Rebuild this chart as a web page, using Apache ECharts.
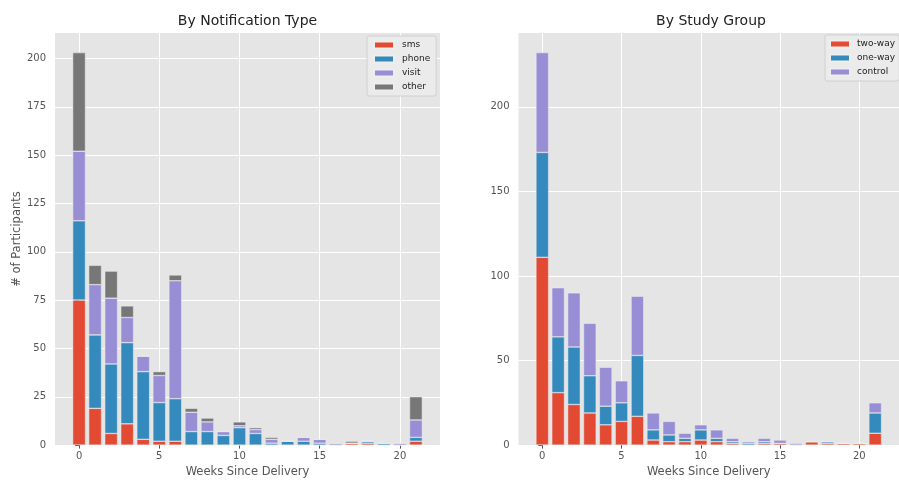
<!DOCTYPE html>
<html><head><meta charset="utf-8">
<script src="https://cdn.jsdelivr.net/npm/echarts@6/dist/echarts.min.js"></script>
<style>html,body{margin:0;padding:0;background:#fff}#c{width:899px;height:483px}</style>
</head><body><div id="c"></div>
<script>
// Weeks since delivery (x categories)
const weeks = [0,1,2,3,4,5,6,7,8,9,10,11,12,13,14,15,16,17,18,19,20,21];
// Left panel: by notification type
const sms   = [75,19,6,11,3,2,2,0,0,0,0,0,0,0,0,0,0,1,1,0,0,2];
const phone = [41,38,36,42,35,20,22,7,7,5,9,6,1,2,2,1,0,0,1,1,0,2];
const visit = [36,26,34,13,8,14,61,10,5,2,1,2,2,0,2,2,1,0,0,0,1,9];
const other = [51,10,14,6,0,2,3,2,2,0,2,1,1,0,0,0,0,1,0,0,0,12];
// Right panel: by study group
const twoWay  = [111,31,24,19,12,14,17,3,2,2,3,2,1,0,1,1,0,2,1,1,1,7];
const oneWay  = [62,33,34,22,11,11,36,6,4,2,6,2,1,1,1,0,0,0,1,0,0,12];
const control = [59,29,32,31,23,13,35,10,8,3,3,5,2,1,2,2,1,0,0,0,0,6];
// Tick labels
const xTicks = [0,5,10,15,20];
const yTicksLeft = [0,25,50,75,100,125,150,175,200];
const yTicksRight = [0,50,100,150,200];

const FONT = 'DejaVu Sans';
const colors = ['#E24A33','#348ABD','#988ED5','#777777'];

// padded category axis: one empty slot on each side (matplotlib margins)
const cats = [String(weeks[0]-1)].concat(weeks.map(String), [String(weeks[weeks.length-1]+1)]);
const pad = a => [null].concat(a, [null]);

function xAxesFor(g){
  return [
    {gridIndex:g, type:'value', min:-1.5, max:22.5,
     axisLine:{show:false},
     axisTick:{show:true, length:3.5, lineStyle:{color:'#555',width:1}, customValues:xTicks},
     axisLabel:{color:'#555', fontSize:10, fontFamily:FONT, margin:6, customValues:xTicks},
     splitLine:{show:true, lineStyle:{color:'#ffffff', width:1}},
     name:'Weeks Since Delivery', nameLocation:'middle', nameGap:18,
     nameTextStyle:{color:'#555', fontSize:11.5, fontFamily:FONT}},
    {gridIndex:g, type:'category', data:cats, show:false, boundaryGap:true}
  ];
}
function yAxisFor(g, max, ticks, name){
  return {gridIndex:g, type:'value', min:0, max:max,
    axisLine:{show:false},
    axisTick:{show:true, length:4, lineStyle:{color:'#555',width:1}, customValues:ticks},
    axisLabel:{color:'#555', fontSize:10, fontFamily:FONT, margin:9, customValues:ticks},
    splitLine:{show:true, lineStyle:{color:'#ffffff', width:1}},
    name:name, nameLocation:'middle', nameGap:28,
    nameTextStyle:{color:'#555', fontSize:11.5, fontFamily:FONT}};
}
function barSeries(name, data, color, xIdx, yIdx, stack){
  return {name:name, type:'bar', stack:stack, xAxisIndex:xIdx, yAxisIndex:yIdx,
    data:pad(data), barCategoryGap:'20%',
    itemStyle:{color:color, borderColor:'#EEEEEE', borderWidth:0.5},
    emphasis:{disabled:true}};
}
const legendCommon = {orient:'vertical', icon:'rect', itemWidth:20, itemHeight:7, itemGap:2,
  textStyle:{fontSize:9, fontFamily:FONT, color:'#222', lineHeight:12, padding:[0,0,0,3]},
  backgroundColor:'#ebebeb', borderColor:'#d0d0d0', borderWidth:1, borderRadius:2};

const option = {
  animation:false,
  backgroundColor:'#ffffff',
  title:[
    {text:'By Notification Type', left:247.5, top:14, textAlign:'center', padding:0,
     textStyle:{fontSize:14, fontWeight:'normal', color:'#222', fontFamily:FONT}},
    {text:'By Study Group', left:711, top:14, textAlign:'center', padding:0,
     textStyle:{fontSize:14, fontWeight:'normal', color:'#222', fontFamily:FONT}}
  ],
  grid:[
    {left:55, top:33, width:385, height:414, show:true, backgroundColor:'#E5E5E5', borderWidth:0},
    {left:518.5, top:33, width:386, height:414, show:true, backgroundColor:'#E5E5E5', borderWidth:0}
  ],
  xAxis: xAxesFor(0).concat(xAxesFor(1)),
  yAxis:[
    yAxisFor(0, 213.15, yTicksLeft, '# of Participants'),
    Object.assign(yAxisFor(1, 243.6, yTicksRight, ''), {name:''})
  ],
  legend:[
    Object.assign({}, legendCommon, {left:367, top:36, padding:[3,6,3,6], data:['sms','phone','visit','other']}),
    Object.assign({}, legendCommon, {left:825, top:35, padding:[3,4,3,4],
      textStyle:Object.assign({}, legendCommon.textStyle, {padding:[0,0,0,2]}),
      data:['two-way','one-way','control']})
  ],
  series:[
    barSeries('sms', sms, colors[0], 1, 0, 'left'),
    barSeries('phone', phone, colors[1], 1, 0, 'left'),
    barSeries('visit', visit, colors[2], 1, 0, 'left'),
    barSeries('other', other, colors[3], 1, 0, 'left'),
    barSeries('two-way', twoWay, colors[0], 3, 1, 'right'),
    barSeries('one-way', oneWay, colors[1], 3, 1, 'right'),
    barSeries('control', control, colors[2], 3, 1, 'right')
  ]
};
const chart = echarts.init(document.getElementById('c'), null, {renderer:'canvas'});
chart.setOption(option);
</script>
</body></html>
